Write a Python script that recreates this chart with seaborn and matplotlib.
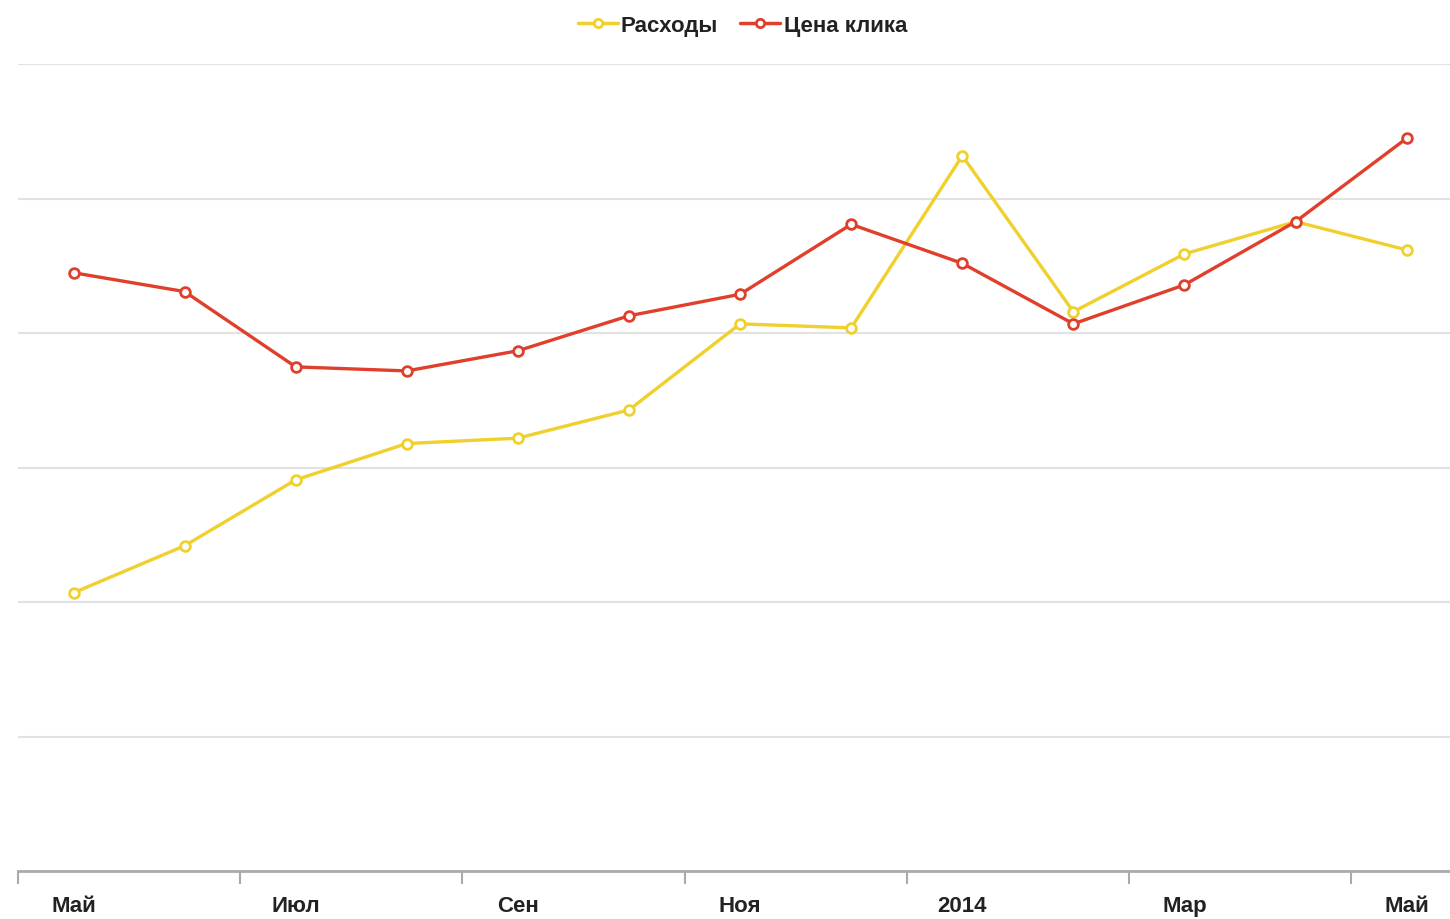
import numpy as np
import matplotlib
matplotlib.use('Agg')
import matplotlib.pyplot as plt
import pandas as pd
import seaborn as sns

# данные (оценка по картинке, единицы = шаги сетки)
months = ['Май', 'Июн', 'Июл', 'Авг', 'Сен', 'Окт', 'Ноя', 'Дек', '2014', 'Фев', 'Мар', 'Апр', 'Май']
rashody = [2.07, 2.42, 2.91, 3.18, 3.22, 3.43, 4.07, 4.04, 5.32, 4.16, 4.59, 4.83, 4.62]
cena_klika = [4.45, 4.31, 3.75, 3.72, 3.87, 4.13, 4.29, 4.81, 4.52, 4.07, 4.36, 4.83, 5.45]
series_names = ['Расходы', 'Цена клика']
colors = ['#EFD02C', '#DF3F2B']

df = pd.DataFrame({
    'idx': list(range(len(months))) * 2,
    'value': rashody + cena_klika,
    'series': [series_names[0]] * len(months) + [series_names[1]] * len(months),
})

sns.set_theme(style='white')
plt.rcParams['font.family'] = ['Liberation Sans', 'DejaVu Sans']

fig = plt.figure(figsize=(14.5, 9.2), dpi=100)
ax = fig.add_axes([0.0124, 0.052, 0.9876, 0.877])

sns.lineplot(data=df, x='idx', y='value', hue='series', palette=colors,
             marker='o', markersize=7, markerfacecolor='white', markeredgewidth=2,
             linewidth=2.4, ax=ax, legend=False)
# цвет краёв маркеров = цвет линии
for line, c in zip(ax.get_lines(), colors):
    line.set_markeredgecolor(c)

ax.set_xlim(-0.495, 12.39)
ax.set_ylim(0, 6)
ax.set_yticks(range(1, 7))
ax.set_yticklabels([])
ax.tick_params(axis='y', length=0)
ax.grid(axis='y', color='#e2e2e2', linewidth=1.5)
ax.set_axisbelow(True)

# подписи месяцев через один, деления между точками
ax.set_xticks(np.arange(-0.5, 12.5, 2))
ax.set_xticklabels([])
ax.tick_params(axis='x', bottom=True, length=9, width=1.5, color='#aaaaaa', direction='out')
for i in range(0, len(months), 2):
    ax.text(i, -0.18, months[i], ha='center', va='top', fontsize=16,
            fontweight='bold', color='#222222', transform=ax.transData)

for s in ['top', 'right', 'left']:
    ax.spines[s].set_visible(False)
ax.spines['bottom'].set_color('#aaaaaa')
ax.spines['bottom'].set_linewidth(2)

ax.set_xlabel('')
ax.set_ylabel('')

# легенда сверху
handles = [plt.Line2D([], [], color=c, marker='o', markersize=6, markerfacecolor='white',
                      markeredgewidth=2, linewidth=2.5) for c in colors]
leg = fig.legend(handles, series_names, loc='center', bbox_to_anchor=(0.512, 0.971), ncol=2,
                 frameon=False, handlelength=1.8, handletextpad=0.15, columnspacing=1.0,
                 prop={'size': 16, 'weight': 'bold'})
for t in leg.get_texts():
    t.set_color('#222222')

fig.savefig('out.png', dpi=100)
